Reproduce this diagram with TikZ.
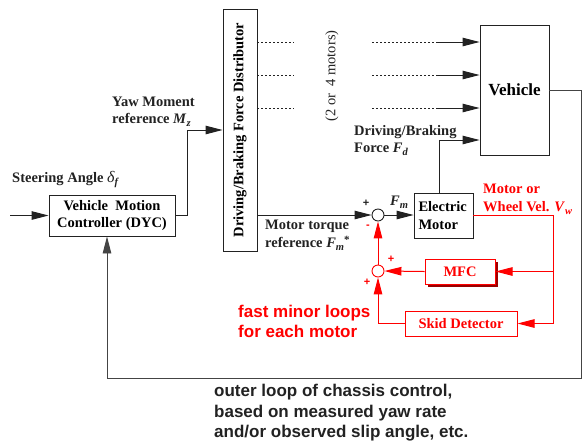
\documentclass[tikz,border=0pt]{standalone}
\usepackage{fontspec}
\usepackage{graphicx}
\setmainfont{Liberation Serif}
\newfontfamily\lsans{Liberation Sans}
\usetikzlibrary{arrows.meta,shadows}
\definecolor{lin}{HTML}{222222}
\definecolor{loopc}{HTML}{444444}
\definecolor{rd}{HTML}{FF0000}
\definecolor{drd}{HTML}{9A0000}
\newcommand\sbs[1]{\raisebox{-3.5pt}{\fontsize{10.5}{12}\selectfont\itshape #1}}
\begin{document}
\begin{tikzpicture}[x=1pt,y=-1pt,
  mainf/.style={font=\fontsize{14.5}{17.5}\selectfont\bfseries},
  blk/.style={draw=lin, line width=0.9pt, fill=white, inner sep=0pt, mainf, align=center},
  rblk/.style={draw=rd, line width=1pt, fill=white, text=rd, inner sep=0pt, mainf, align=center},
  sumc/.style={circle, draw=lin, line width=0.9pt, fill=white, minimum size=12pt, inner sep=0pt},
  conn/.style={draw=lin, line width=0.9pt},
  rconn/.style={draw=rd, line width=1pt},
  arr/.style={-{Triangle[length=17pt,width=8.5pt]}},
  dots/.style={draw=lin, line width=0.9pt, dash pattern=on 2pt off 2pt},
  lbl/.style={mainf, inner sep=0pt, anchor=base west, text=lin},
  rlbl/.style={mainf, inner sep=0pt, anchor=base west, text=rd},
  pm/.style={inner sep=0pt, font=\lsans\fontsize{11}{13}\selectfont\bfseries},
  sansl/.style={inner sep=0pt, anchor=base west, font=\lsans\fontsize{17}{20}\selectfont\bfseries},
]
\useasboundingbox[fill=white] (0,0) rectangle (585,440);

% blocks
\node[blk, minimum width=126pt, minimum height=41pt] (dyc) at (112,215.5) {Vehicle\ \ Motion\\Controller (DYC)};
\node[blk, minimum width=34pt, minimum height=242pt] (dist) at (240,130) {\rotatebox{90}{Driving/Braking Force Distributor}};
\node[blk, font=\fontsize{17}{20}\selectfont\bfseries, minimum width=69pt, minimum height=130pt] (veh) at (514.5,90) {Vehicle};
\node[blk, minimum width=59pt, minimum height=45pt, align=left, text width=50pt] (em) at (443.5,215.5) {Electric\\Motor};
\node[sumc] (s1) at (378,215) {};
\node[sumc, draw=rd] (s2) at (378,271) {};
\node[rblk, minimum width=70pt, minimum height=25pt, drop shadow={shadow xshift=2.5pt, shadow yshift=-2.5pt, fill=drd, opacity=1}] (mfc) at (460,271.5) {MFC};
\node[rblk, minimum width=112pt, minimum height=25pt] (skid) at (461,323.5) {Skid Detector};

\node[rotate=90, inner sep=0pt, font=\fontsize{14.5}{17.5}\selectfont, text=lin] (motors) at (332,76) {(2 or\ \ 4 motors)};

% coordinates
\coordinate (in) at (10,215.5);
\coordinate (k1) at (187,130);
\coordinate (k2) at (439,140);
\coordinate (k3) at (553,215);
\coordinate (k4) at (553,323.5);
\coordinate (k5) at (581,378);
\coordinate (k6) at (107,378);

% black connectors
\draw[conn,arr] (in) -- (dyc.west);
\draw[conn,arr] (dyc.east) -| (k1) -- (dist.west |- k1);
\foreach \yy in {42,75,108}{
  \coordinate (da) at (294,\yy);
  \coordinate (db) at (372,\yy);
  \coordinate (dc) at (438,\yy);
  \draw[dots] (dist.east |- da) -- (da);
  \draw[dots] (db) -- (dc);
  \draw[conn,arr] (dc) -- (veh.west |- dc);
}
\draw[conn,arr] (k2 |- em.north) -- (k2) -- (veh.west |- k2);
\draw[conn,arr] (dist.east |- s1) -- (s1.west);
\draw[conn,arr] (s1.east) -- (em.west |- s1);
\draw[conn, draw=loopc, arr] (veh.east) -| (k5) -- (k6) -- (k6 |- dyc.south);

% red connectors
\draw[rconn] (em.east |- s1) -- (k3) -- (k4);
\draw[rconn,arr] (k4) -- (skid.east);
\draw[rconn,arr] (k3 |- mfc) -- (mfc.east);
\draw[rconn,arr] (mfc.west) -- (s2.east);
\draw[rconn,arr] (skid.west) -| (s2.south);
\draw[rconn,arr] (s2.north) -- (s1.south);

% labels
\node[lbl] (sa) at (12,182) {Steering Angle {\mdseries\fontsize{16}{18}\selectfont\itshape δ}\sbs{f}};
\node[lbl] (ym1) at (112,106) {Yaw Moment};
\node[lbl] (ym2) at (112,123) {reference \textit{M}\sbs{z}};
\node[lbl] (fd1) at (354,135) {Driving/Braking};
\node[lbl] (fd2) at (354,152) {Force \textit{F}\sbs{d}};
\node[lbl] (mt1) at (265,229) {Motor torque};
\node[lbl] (mt2) at (265,247) {reference \textit{F}\sbs{m}\raisebox{4pt}{\fontsize{11}{12}\selectfont *}};
\node[lbl] (fm) at (390,205) {\textit{F}\sbs{m}};
\node[rlbl] (mv1) at (483,193) {Motor or};
\node[rlbl] (mv2) at (483,211) {Wheel Vel. \textit{V}\sbs{w}};
\node[pm, text=lin] (p1) at (366,203) {+};
\node[pm, text=rd] (p2) at (368,227) {-};
\node[pm, text=rd] (p3) at (391,259) {+};
\node[pm, text=rd] (p4) at (367,282) {+};
\node[sansl, text=rd] (fl1) at (238,317) {fast minor loops};
\node[sansl, text=rd] (fl2) at (238,337) {for each motor};
\node[sansl, text=lin] (ol1) at (214,396) {outer loop of chassis control,};
\node[sansl, text=lin] (ol2) at (214,417) {based on measured yaw rate};
\node[sansl, text=lin] (ol3) at (214,437) {and/or observed slip angle, etc.};
\end{tikzpicture}
\end{document}
